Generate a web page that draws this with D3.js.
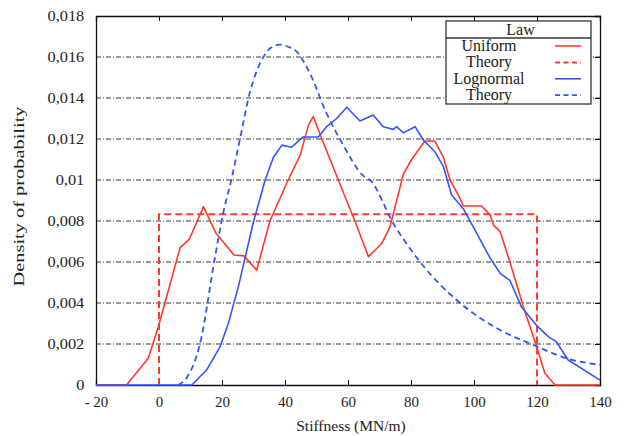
<!DOCTYPE html>
<html>
<head>
<meta charset="utf-8">
<script src="https://cdn.jsdelivr.net/npm/d3@7"></script>
<style>
  body { margin: 0; background: #fff; }
</style>
</head>
<body>
<div id="chart"></div>
<script>
// Data: [stiffness, density]
const uniformSample = [
  [-20, 0], [-10.3, 0], [-3.4, 0.0013], [-0.2, 0.00284], [6.7, 0.0067], [9.6, 0.0071],
  [14.1, 0.0087], [18.1, 0.0074], [23.8, 0.00634], [27, 0.0063], [31, 0.0056],
  [35.2, 0.008], [41, 0.01], [44.8, 0.0112], [47.5, 0.0127], [49, 0.0131], [51.7, 0.012],
  [60.6, 0.0086], [62.2, 0.008], [66.5, 0.00626], [70.7, 0.0069], [73.3, 0.0077],
  [77.6, 0.0103], [80.2, 0.011], [84.4, 0.0119], [87.6, 0.0119], [90.3, 0.0111],
  [92.4, 0.01], [95.6, 0.0091], [96.6, 0.00873], [102.4, 0.00873], [105.1, 0.0083],
  [106.2, 0.0078], [108.3, 0.00748], [111.4, 0.006], [115.7, 0.0038], [119.9, 0.00187],
  [122.5, 0.00057], [125.7, 0], [140, 0]
];
const uniformTheory = [[0, 0], [0, 0.00833], [120, 0.00833], [120, 0]];
const lognormalSample = [
  [-20, 0], [10.4, 0], [15.1, 0.00073], [19.4, 0.00187], [22, 0.003], [25.2, 0.0048],
  [29.9, 0.0079], [33.7, 0.01], [36.3, 0.0111], [39, 0.0117], [42.1, 0.0116],
  [45.8, 0.0121], [50.6, 0.0121], [53.2, 0.0126], [56.4, 0.013], [59.6, 0.01355],
  [63.8, 0.01288], [68, 0.01317], [71.2, 0.0126], [74.4, 0.01247], [75.4, 0.0126],
  [77.6, 0.0123], [81.3, 0.0126], [83.9, 0.01195], [87.6, 0.01138], [90.3, 0.01065],
  [92.9, 0.00927], [96.6, 0.0086], [99.8, 0.0077], [105.1, 0.0062], [108.3, 0.00545],
  [111.4, 0.0051], [115.1, 0.0038], [119.9, 0.0029], [123.6, 0.00236], [126.2, 0.0021],
  [129.9, 0.00122], [140, 0.00024]
];
const lognormalTheory = [
  [6, 0], [9, 0.0004], [13, 0.002], [17.8, 0.00626], [20.4, 0.0084], [23.1, 0.0101],
  [25.7, 0.012], [28.9, 0.0143], [32.6, 0.01585], [35.5, 0.01645], [38.4, 0.0166],
  [41, 0.0165], [43.7, 0.01626], [47.9, 0.0152], [53.2, 0.01325], [58.5, 0.0117],
  [64.9, 0.0102], [67, 0.01], [74.4, 0.00788], [82.9, 0.006], [95.6, 0.004],
  [108.3, 0.00268], [118.9, 0.00195], [129.4, 0.0013], [140, 0.00098]
];

const xTicks = [-20, 0, 20, 40, 60, 80, 100, 120, 140];
const xTickLabels = ["- 20", "0", "20", "40", "60", "80", "100", "120", "140"];
const yTicks = [0, 0.002, 0.004, 0.006, 0.008, 0.01, 0.012, 0.014, 0.016, 0.018];
const yTickLabels = ["0", "0,002", "0,004", "0,006", "0,008", "0,01", "0,012", "0,014", "0,016", "0,018"];
const legendTitle = "Law";
const legendNames = ["Uniform", "Theory", "Lognormal", "Theory"];

const W = 627, H = 436;
const margin = { top: 16, right: 27, bottom: 51, left: 96 };
const w = W - margin.left - margin.right;
const h = H - margin.top - margin.bottom;
const FONT = '"Liberation Serif"';
const INK = "#222";

const red = "#ff3a2a", blue = "#3356f5";
const series = [
  { data: uniformSample, color: red, dash: null, width: 1.6, curve: d3.curveLinear },
  { data: uniformTheory, color: red, dash: "7,4", width: 2, curve: d3.curveLinear },
  { data: lognormalSample, color: blue, dash: null, width: 1.6, curve: d3.curveLinear },
  { data: lognormalTheory, color: blue, dash: "6,4", width: 1.8, curve: d3.curveMonotoneX }
];

const svg = d3.select("#chart").append("svg")
  .attr("width", W).attr("height", H);
const g = svg.append("g").attr("transform", `translate(${margin.left},${margin.top})`);

const x = d3.scaleLinear().domain([-20, 140]).range([0, w]);
const y = d3.scaleLinear().domain([0, 0.018]).range([h, 0]);

// grid lines (dash-dot)
g.selectAll(".grid")
  .data(yTicks.slice(1, -1))
  .enter().append("line")
  .attr("x1", 0).attr("x2", w)
  .attr("y1", d => y(d)).attr("y2", d => y(d))
  .attr("stroke", "#222").attr("stroke-width", 0.9)
  .attr("stroke-dasharray", "5,2,1,2");

// axes with inward ticks
const xAxis = g.append("g").attr("transform", `translate(0,${h})`)
  .call(d3.axisBottom(x).tickValues(xTicks).tickSize(-5).tickPadding(11)
    .tickFormat((d, i) => xTickLabels[i]));
const xTop = g.append("g")
  .call(d3.axisTop(x).tickValues(xTicks).tickSize(-5).tickFormat(""));
const yAxis = g.append("g")
  .call(d3.axisLeft(y).tickValues(yTicks).tickSize(0).tickPadding(10)
    .tickFormat((d, i) => yTickLabels[i]));
const yRight = g.append("g").attr("transform", `translate(${w},0)`)
  .call(d3.axisRight(y).tickValues(yTicks).tickSize(-5).tickFormat(""));

[xAxis, xTop, yAxis, yRight].forEach(a => {
  a.selectAll(".domain").attr("stroke", "#111").attr("stroke-width", 1.3);
  a.selectAll(".tick line").attr("stroke", "#111");
  a.selectAll(".tick text").style("font-family", FONT).attr("fill", INK);
});
xAxis.selectAll(".tick text").style("font-size", "15px");
// y tick labels are drawn wide in the original
yAxis.selectAll(".tick text").style("font-size", "14px")
  .attr("transform", "scale(1.17,1)");

// curves
series.forEach(s => {
  const line = d3.line().x(d => x(d[0])).y(d => y(d[1])).curve(s.curve);
  g.append("path")
    .datum(s.data)
    .attr("d", line)
    .attr("fill", "none")
    .attr("stroke", s.color)
    .attr("stroke-width", s.width)
    .attr("stroke-linejoin", "round")
    .attr("stroke-dasharray", s.dash);
});

// axis titles
svg.append("text")
  .attr("x", margin.left + w / 2 + 3).attr("y", 431)
  .attr("text-anchor", "middle")
  .style("font-family", FONT).style("font-size", "15.5px").attr("fill", INK)
  .text("Stiffness (MN/m)");
svg.append("text")
  .attr("transform", `translate(24,${margin.top + h / 2 - 4}) rotate(-90)`)
  .attr("text-anchor", "middle")
  .attr("textLength", 180).attr("lengthAdjust", "spacingAndGlyphs")
  .style("font-family", FONT).style("font-size", "14.5px").attr("fill", INK)
  .text("Density of probability");

// legend
const lg = svg.append("g").attr("transform", "translate(446,21)");
const lw = 145, lh = 83;
lg.append("rect").attr("width", lw).attr("height", lh)
  .attr("fill", "#fff").attr("stroke", "#333").attr("stroke-width", 1.3);
lg.append("line").attr("x1", 0).attr("x2", lw).attr("y1", 17).attr("y2", 17)
  .attr("stroke", "#333").attr("stroke-width", 1.3);
lg.append("text").attr("x", lw / 2 + 2).attr("y", 14)
  .attr("text-anchor", "middle")
  .style("font-family", FONT).style("font-size", "16px").attr("fill", INK)
  .text(legendTitle);
legendNames.forEach((name, i) => {
  const yy = 25 + i * 16.4;
  lg.append("text").attr("x", 43).attr("y", yy + 5)
    .attr("text-anchor", "middle")
    .style("font-family", FONT).style("font-size", "16px").attr("fill", INK)
    .text(name);
  lg.append("line").attr("x1", 109).attr("x2", 135)
    .attr("y1", yy).attr("y2", yy)
    .attr("stroke", series[i].color)
    .attr("stroke-width", series[i].width)
    .attr("stroke-dasharray", series[i].dash ? "5,3.5" : null);
});
</script>
</body>
</html>
